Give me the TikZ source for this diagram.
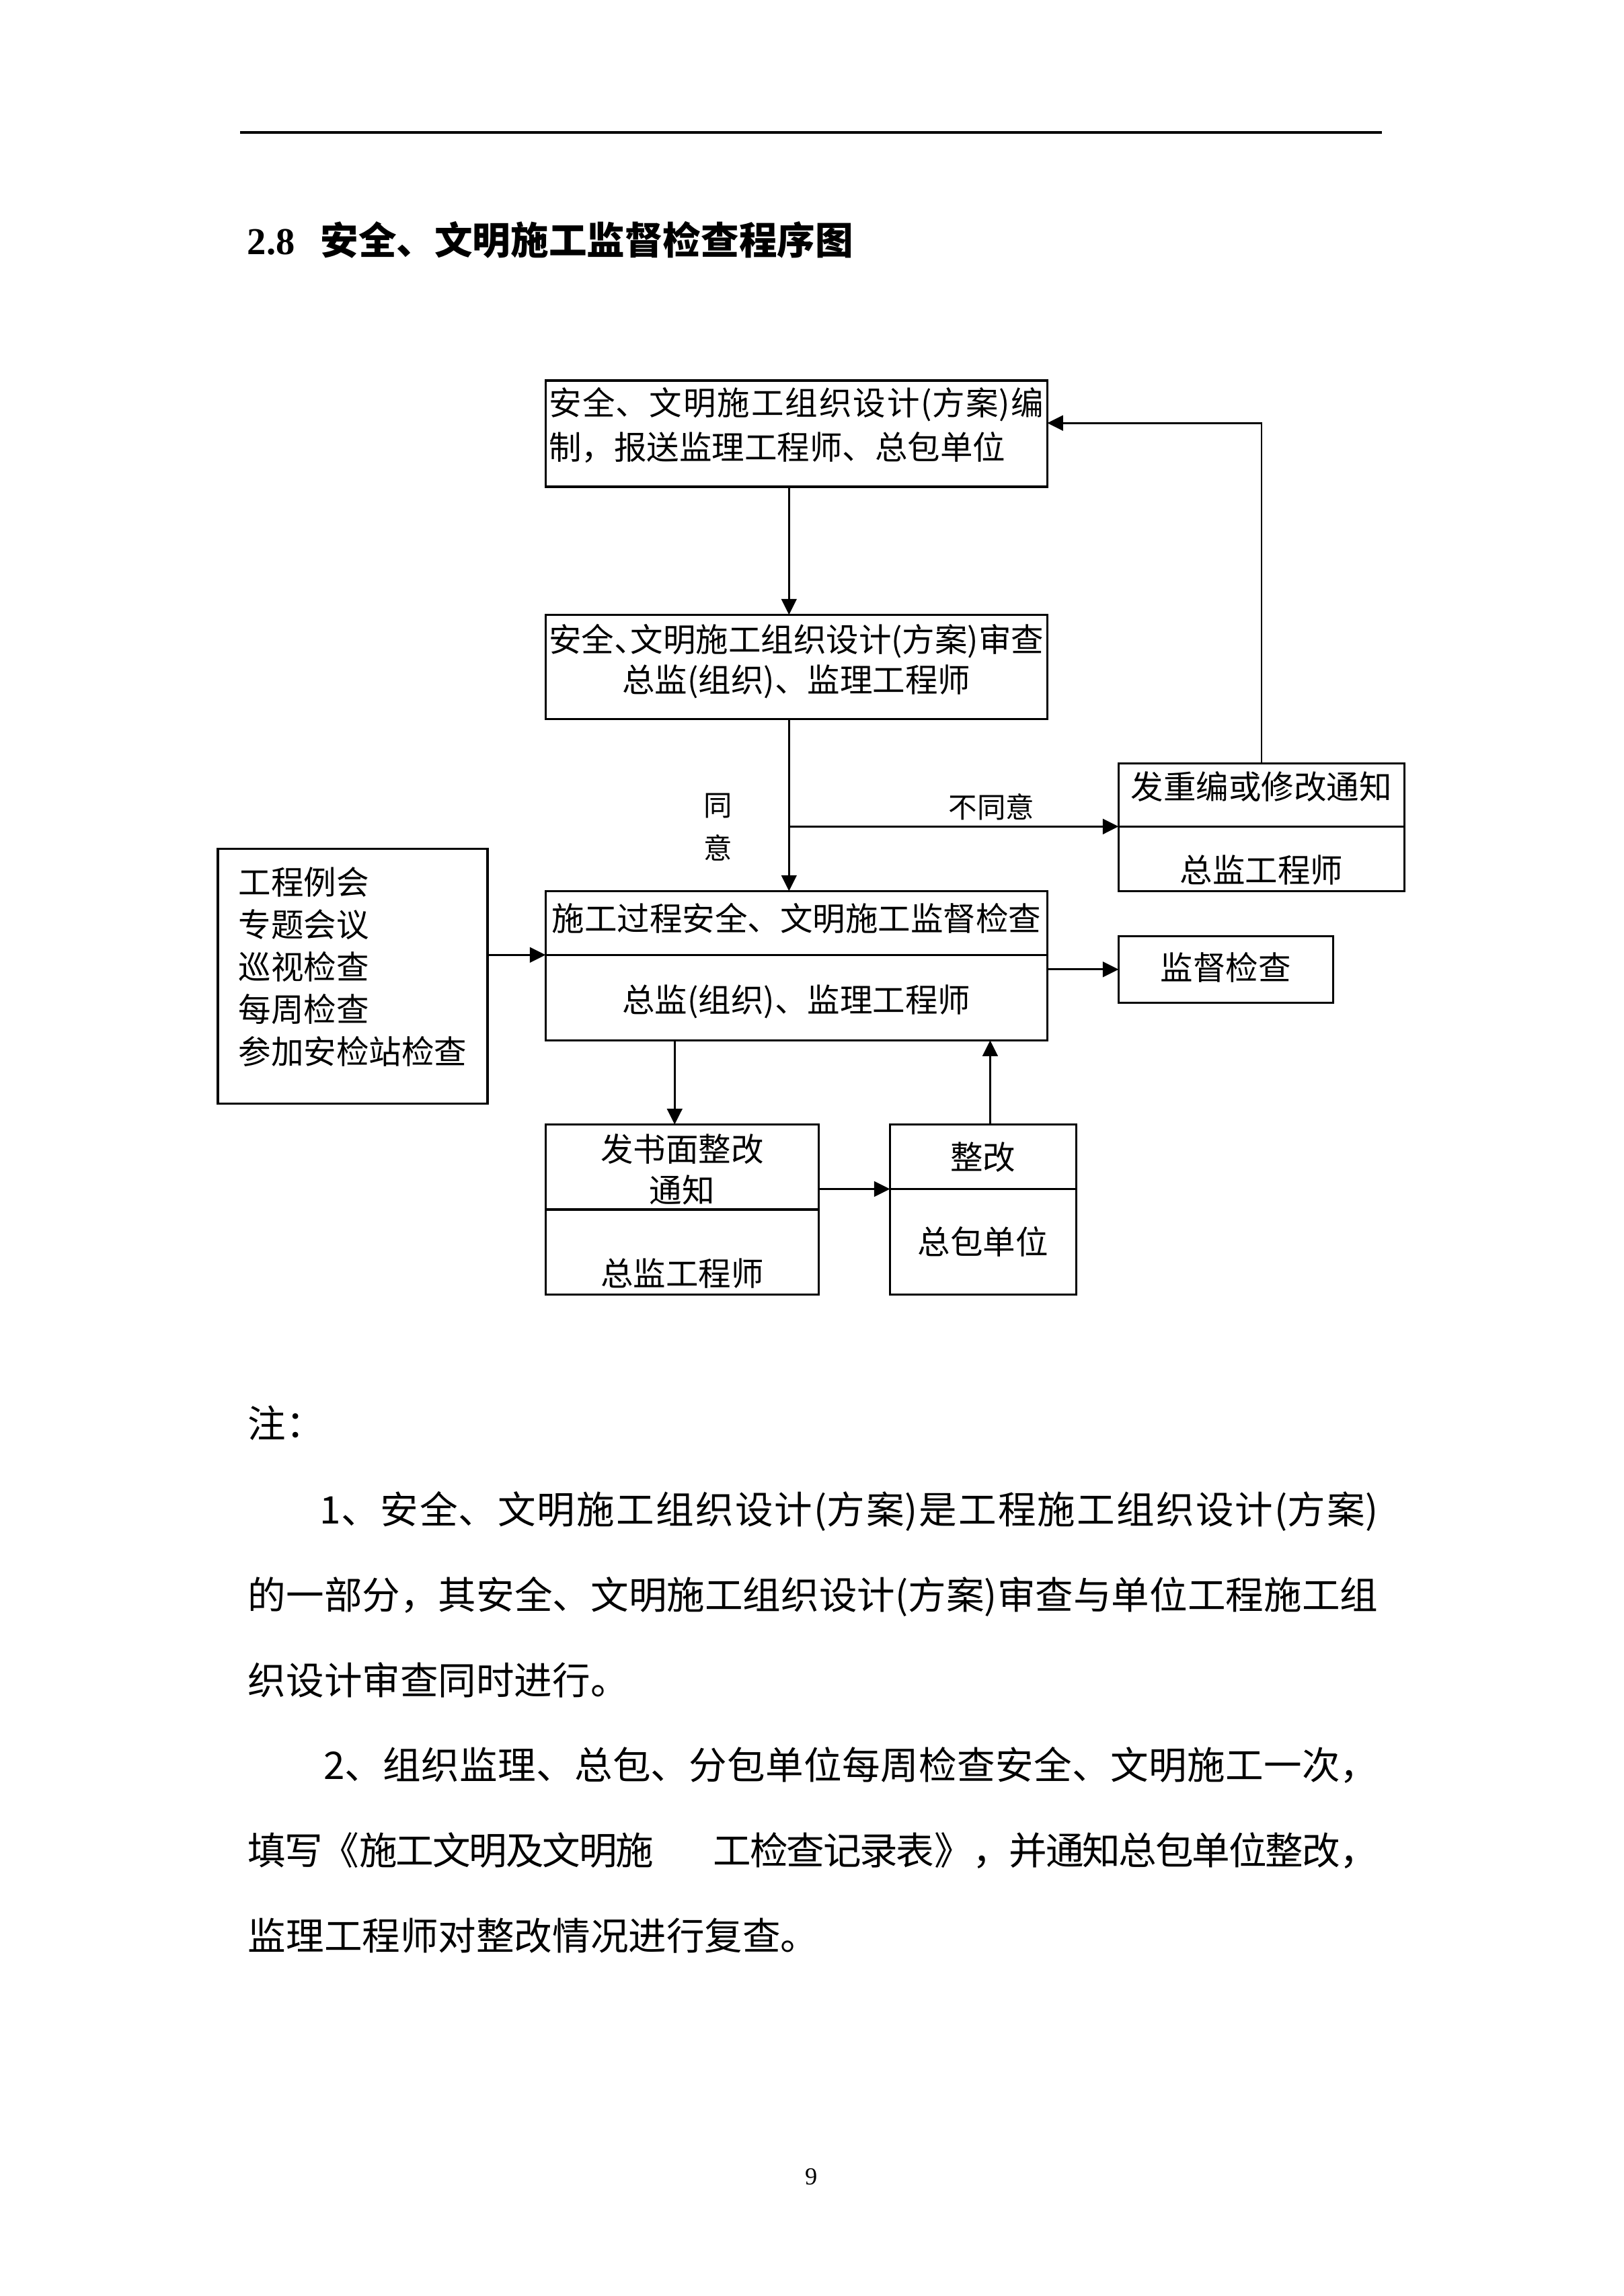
\documentclass[tikz,border=0pt]{standalone}
\usepackage{fontspec}
\setmainfont{Noto Sans CJK SC}
\newfontfamily\lat{Liberation Serif}
\XeTeXlinebreaklocale "zh"
\XeTeXlinebreakskip=0pt plus 1pt minus 0.8pt
\usetikzlibrary{arrows.meta,positioning}

\begin{document}
\begin{tikzpicture}[
    x=1mm, y=1mm,
    node distance=10mm and 9.22mm,
    box/.style={draw, line width=0.85pt, outer sep=0pt, inner sep=0.5mm, font=\fontsize{12pt}{15pt}\selectfont},
    tag/.style={inner sep=0pt, font=\fontsize{10.5pt}{15.8pt}\selectfont},
    note/.style={anchor=base west, inner sep=0pt, text width=146.15mm, align=justify, font=\fontsize{14pt}{31.4pt}\selectfont},
    arr/.style={line width=0.7pt, -{Triangle[length=5.8pt, width=5.6pt]}}
]
\useasboundingbox (0,0) rectangle (210,-297);
\draw[line width=0.8pt] (31.06,-17.14) -- (178.68,-17.14);
\node[anchor=west, inner sep=0pt, font=\fontsize{14pt}{17pt}\selectfont\bfseries] (title) at (31.93,-31.06) {{\lat 2.8}\hspace{9.4pt}安全、文明施工监督检查程序图};

\node[box, minimum width=64.89mm, minimum height=13.74mm, text width=64mm, inner xsep=0.4mm, align=justify, font=\fontsize{12pt}{16.3pt}\selectfont, text height=0pt, text depth=4.78mm] (plan) at (103,-56.11) {安全、文明施工组织设计(方案)编\linebreak 制，报送监理工程师、总包单位};
\node[box, minimum width=64.89mm, minimum height=13.48mm, inner xsep=0pt, align=center, text height=6.61mm, text depth=0pt] (review) [below=16.53mm of plan] {安全{\addfontfeatures{CharacterWidth=AlternateHalf}、}文明施工组织设计(方案)审查\\总监(组织)、监理工程师};
\node[box, minimum width=64.89mm, minimum height=8.26mm, text height=2.09mm, text depth=0pt] (insp) [below=22.27mm of review] {施工过程安全、文明施工监督检查};
\node[box, minimum width=64.89mm, minimum height=11.05mm, text height=3.83mm, text depth=0pt] (inspby) [below=0mm of insp] {总监(组织)、监理工程师};
\node[box, minimum width=36.97mm, minimum height=8.35mm, text height=6.18mm, text depth=0pt] (redoby) [above right=0mm and 9.22mm of insp.north east] {总监工程师};
\node[box, minimum width=36.97mm, minimum height=8.18mm, text height=1.13mm, text depth=0pt] (redo) [above=0mm of redoby] {发重编或修改通知};
\node[box, minimum width=27.75mm, minimum height=8.61mm, text height=2.78mm, text depth=0pt] (check) [below right=5.83mm and 9.22mm of insp.north east] {监督检查};
\node[box, minimum width=34.88mm, minimum height=32.97mm, align=left, font=\fontsize{12pt}{15.6pt}\selectfont, text height=22.79mm, text depth=0pt] (meet) at (45.63,-126.27) {工程例会\\专题会议\\巡视检查\\每周检查\\参加安检站检查};
\node[box, minimum width=35.32mm, minimum height=11mm, align=center, text height=9.13mm, text depth=0pt] (notice) [below=10.88mm of inspby.south west, anchor=north west] {发书面整改\\通知};
\node[box, minimum width=35.32mm, minimum height=11mm, text height=8.79mm, text depth=0pt] (noticeby) [below=0mm of notice] {总监工程师};
\node[box, minimum width=24.1mm, minimum height=8.35mm, text height=3.39mm, text depth=0pt] (fix) [right=9.22mm of notice.north east, anchor=north west] {整改};
\node[box, minimum width=24.1mm, minimum height=13.66mm, text height=3.13mm, text depth=0pt] (fixby) [below=0mm of fix] {总包单位};

\coordinate (spine) at ([xshift=-0.96mm]plan.south);
\coordinate (down) at ([xshift=-0.96mm]notice.north);
\coordinate (up) at ([xshift=0.91mm]fix.north);
\draw[arr] (spine) -- (spine |- review.north);
\draw[arr] (spine |- review.south) -- (spine |- insp.north);
\draw[arr] (spine |- redo.south) -- (redo.south west);
\draw[arr] (redo.north) |- ([yshift=1.39mm]plan.east);
\draw[arr] (meet.east |- insp.south) -- (insp.south west);
\draw[arr] (inspby.east |- check.west) -- (check.west);
\draw[arr] (down |- inspby.south) -- (down);
\draw[arr] (notice.east |- fix.south) -- (fix.south west);
\draw[arr] (up) -- (up |- inspby.south);

\node[tag, align=center] (agree) at (92.82,-107) {同\\意};
\node[tag] (disagree) at (128.22,-104.39) {不同意};

\node[anchor=west, inner sep=0pt, font=\fontsize{14pt}{17pt}\selectfont] (zhu) at (32.01,-184.07) {注：};
\node[note] (note1) at (32.01,-197.1) {\hspace*{9.3mm}1、安全、文明施工组织设计(方案)是工程施工组织设计(方案)\linebreak 的一部分，其安全、文明施工组织设计(方案)审查与单位工程施工组\linebreak 织设计审查同时进行。};
\node[note] (note2) at (32.01,-230.2) {\hspace*{9.8mm}2、组织监理、总包、分包单位每周检查安全、文明施工一次，\linebreak 填写《施工文明及文明施\kern7.7mm 工检查记录表》，并通知总包单位整改，\linebreak 监理工程师对整改情况进行复查。};
\node[inner sep=0pt, font=\lat\fontsize{9pt}{11pt}\selectfont] (page) at (104.9,-281.6) {9};
\end{tikzpicture}
\end{document}
